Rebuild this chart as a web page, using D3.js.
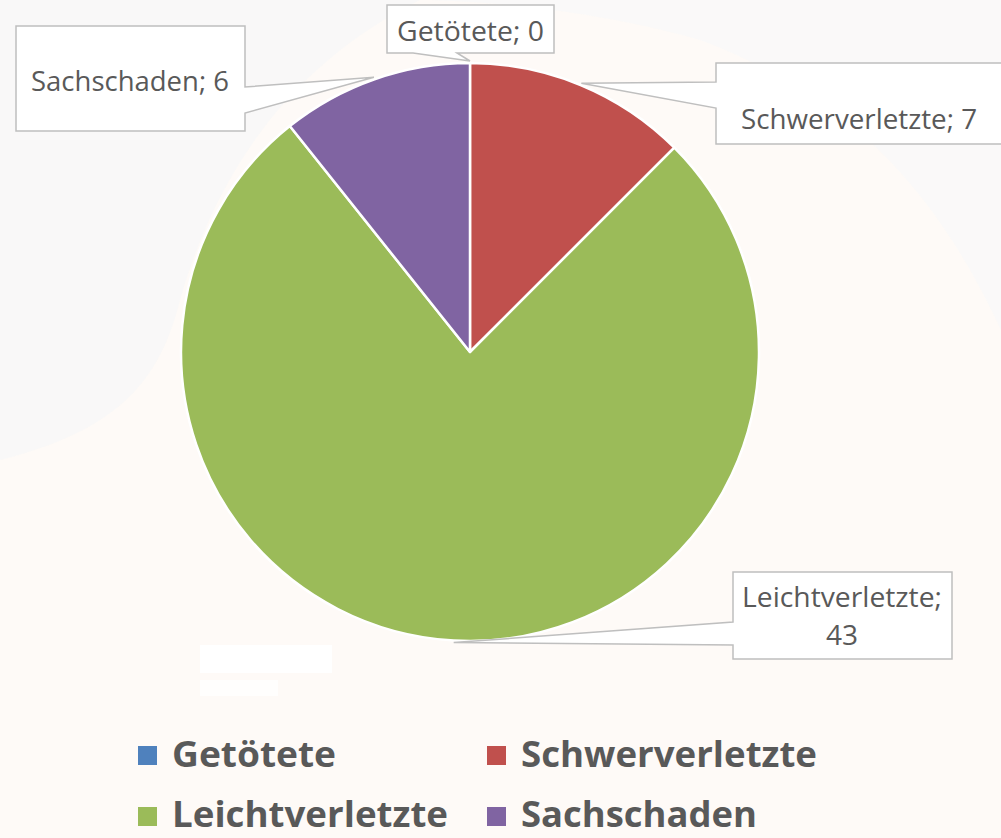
<!DOCTYPE html>
<html>
<head>
<meta charset="utf-8">
<script src="https://cdn.jsdelivr.net/npm/d3@7"></script>
<style>
  html, body { margin: 0; padding: 0; background: #fefaf7; }
  svg { display: block; }
</style>
</head>
<body>
<svg id="chart" width="1001" height="838"></svg>
<script>
// ---- data ----
const categories = ["Getötete", "Schwerverletzte", "Leichtverletzte", "Sachschaden"];
const values = [0, 7, 43, 6];
const colors = ["#4f81bd", "#c0504d", "#9bbb59", "#8064a2"];

// ---- layout ----
const W = 1001, H = 838;
const cx = 470, cy = 352, R = 289;
const textColor = "#595959";

const svg = d3.select("#chart");

// background with faint watermark shapes
svg.append("rect").attr("width", W).attr("height", H).attr("fill", "#fefaf7");
const bg = svg.append("g");
bg.append("path")
  .attr("d", "M0,0 L420,0 C300,60 220,160 180,300 C160,380 120,430 0,460 Z")
  .attr("fill", "#f8f8f8").attr("opacity", 0.8);
bg.append("path")
  .attr("d", "M420,0 L1001,0 L1001,330 C940,200 860,100 700,40 C560,0 420,0 420,0 Z")
  .attr("fill", "#f9f9f9").attr("opacity", 0.8);
bg.append("rect").attr("x", 200).attr("y", 645).attr("width", 132).attr("height", 28).attr("fill", "#ffffff");
bg.append("rect").attr("x", 200).attr("y", 680).attr("width", 78).attr("height", 16).attr("fill", "#fffefd");

// ---- pie ----
const pie = d3.pie().value(d => d).sort(null);
const arcs = pie(values);
const arc = d3.arc().innerRadius(0).outerRadius(R);
const tipArc = d3.arc().innerRadius(R + 2).outerRadius(R + 2);

const g = svg.append("g").attr("transform", `translate(${cx},${cy})`);
g.selectAll("path.slice")
  .data(arcs)
  .join("path")
  .attr("class", "slice")
  .attr("d", arc)
  .attr("fill", (d, i) => colors[i])
  .attr("stroke", "#ffffff")
  .attr("stroke-width", 2.5)
  .attr("stroke-linejoin", "round");

// ---- data label callouts ----
const boxes = [
  { x0: 387, y0: 5,   x1: 554,  y1: 53,  side: "bottom", a: 413, b: 457, lines: ["Getötete; 0"], tx: [397], ty: [41], tl: [147] },
  { x0: 716, y0: 63,  x1: 1010, y1: 144, side: "left",   a: 82,  b: 108, lines: ["Schwerverletzte; 7"], tx: [741], ty: [129], tl: [236] },
  { x0: 733, y0: 572, x1: 952,  y1: 659, side: "left",   a: 622, b: 645, lines: ["Leichtverletzte;", "43"], tx: [742, 842], ty: [607, 645], tl: [200, null] },
  { x0: 16,  y0: 26,  x1: 245,  y1: 131, side: "right",  a: 87,  b: 113, lines: ["Sachschaden; 6"], tx: [31], ty: [91], tl: [198] }
];

arcs.forEach((d, i) => {
  const bx = boxes[i];
  const c = tipArc.centroid(d);
  const px = cx + c[0], py = cy + c[1];
  let pts;
  if (bx.side === "bottom") {
    pts = [[bx.x0, bx.y0], [bx.x1, bx.y0], [bx.x1, bx.y1], [bx.b, bx.y1], [px, py], [bx.a, bx.y1], [bx.x0, bx.y1]];
  } else if (bx.side === "left") {
    pts = [[bx.x0, bx.y0], [bx.x1, bx.y0], [bx.x1, bx.y1], [bx.x0, bx.y1], [bx.x0, bx.b], [px, py], [bx.x0, bx.a]];
  } else {
    pts = [[bx.x0, bx.y0], [bx.x1, bx.y0], [bx.x1, bx.a], [px, py], [bx.x1, bx.b], [bx.x1, bx.y1], [bx.x0, bx.y1]];
  }
  svg.append("path")
    .attr("d", d3.line()(pts) + "Z")
    .attr("fill", "#ffffff")
    .attr("stroke", "#bfbfbf")
    .attr("stroke-width", 1.5);

  bx.lines.forEach((t, j) => {
    const txt = svg.append("text")
      .attr("x", bx.tx[j])
      .attr("y", bx.ty[j])
      .attr("font-family", "'Open Sans', Lato, sans-serif")
      .attr("font-size", 28)
      .attr("fill", textColor)
      .attr("text-anchor", bx.tl[j] ? "start" : "middle")
      .text(t);
    if (bx.tl[j]) txt.attr("textLength", bx.tl[j]).attr("lengthAdjust", "spacingAndGlyphs");
  });
});

// ---- legend ----
const legendPos = [
  { sx: 138, sy: 746, tx: 172, ty: 767, tl: 164 },
  { sx: 487, sy: 746, tx: 521, ty: 767, tl: 296 },
  { sx: 138, sy: 807, tx: 172, ty: 827, tl: 276 },
  { sx: 487, sy: 807, tx: 521, ty: 827, tl: 236 }
];
const leg = svg.append("g");
categories.forEach((cat, i) => {
  const p = legendPos[i];
  leg.append("rect").attr("x", p.sx).attr("y", p.sy).attr("width", 19).attr("height", 19).attr("fill", colors[i]);
  leg.append("text")
    .attr("x", p.tx).attr("y", p.ty)
    .attr("font-family", "'Open Sans', Lato, sans-serif")
    .attr("font-weight", "bold")
    .attr("font-size", 36)
    .attr("fill", textColor)
    .attr("textLength", p.tl)
    .attr("lengthAdjust", "spacingAndGlyphs")
    .text(cat);
});
</script>
</body>
</html>
